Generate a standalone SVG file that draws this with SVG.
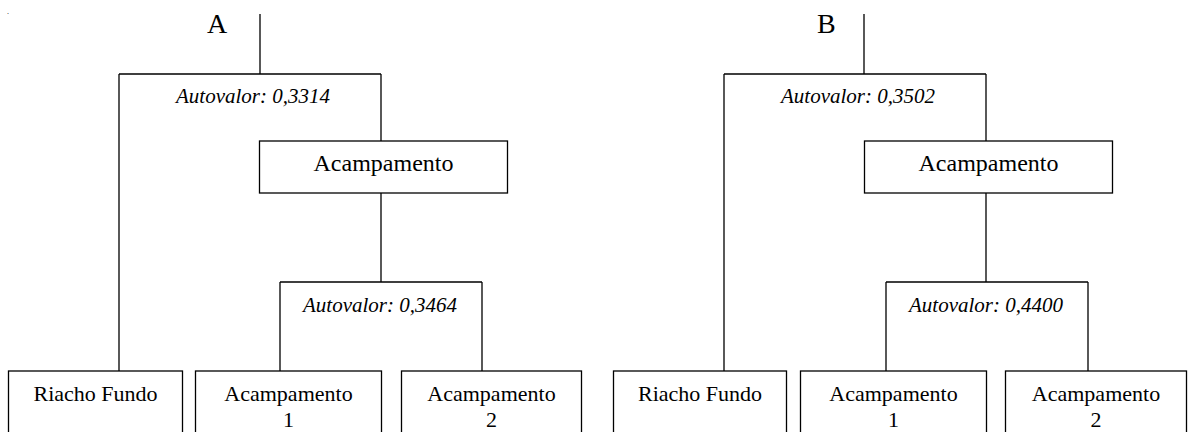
<svg xmlns="http://www.w3.org/2000/svg" width="1191" height="432" viewBox="0 0 1191 432">
<style>
.ln{fill:none;stroke:#000;stroke-width:1.3}
.bx{fill:#fff;stroke:#000;stroke-width:1.3}
.t{font-family:"Liberation Serif","Times New Roman",serif;fill:#000}
.lbl{font-size:22px;text-anchor:middle}
.big{font-size:24px;text-anchor:middle}
.av{font-size:21px;font-style:italic;text-anchor:middle}
.hd{font-size:28px}
</style>
<rect width="1191" height="432" fill="#fff"/>
<text class="t" x="7" y="14" font-size="8">.</text>
<g id="connectors">
  <path class="ln" d="M260,14 V74 M119,74 H381 M119,74 V371 M381,74 V141 M381,193 V282 M280,282 H482 M280,282 V371 M482,282 V371"/>
  <path class="ln" d="M864,14 V74 M724,74 H986 M724,74 V371 M986,74 V141 M986,193 V282 M886,282 H1088 M886,282 V371 M1088,282 V371"/>
</g>
<g id="labelA"><text class="t hd" x="207" y="33">A</text></g>
<g id="labelB"><text class="t hd" x="817" y="33">B</text></g>
<g id="autovalorA1"><text class="t av" x="253" y="103">Autovalor: 0,3314</text></g>
<g id="autovalorA2"><text class="t av" x="380" y="312">Autovalor: 0,3464</text></g>
<g id="autovalorB1"><text class="t av" x="858" y="103">Autovalor: 0,3502</text></g>
<g id="autovalorB2"><text class="t av" x="986" y="312">Autovalor: 0,4400</text></g>
<g id="acampA">
  <rect class="bx" x="259.5" y="141" width="248" height="52"/>
  <text class="t big" x="383.5" y="171">Acampamento</text>
</g>
<g id="acampB">
  <rect class="bx" x="864.5" y="141" width="248" height="52"/>
  <text class="t big" x="988.5" y="171">Acampamento</text>
</g>
<g id="riachoA">
  <rect class="bx" x="8.5" y="371" width="174" height="70"/>
  <text class="t lbl" x="95.5" y="401">Riacho Fundo</text>
</g>
<g id="acamp1A">
  <rect class="bx" x="195.5" y="371" width="186" height="70"/>
  <text class="t lbl" x="288.5" y="401">Acampamento</text>
  <text class="t lbl" x="288.5" y="427">1</text>
</g>
<g id="acamp2A">
  <rect class="bx" x="401.5" y="371" width="180" height="70"/>
  <text class="t lbl" x="491.5" y="401">Acampamento</text>
  <text class="t lbl" x="491.5" y="427">2</text>
</g>
<g id="riachoB">
  <rect class="bx" x="613.5" y="371" width="173" height="70"/>
  <text class="t lbl" x="700" y="401">Riacho Fundo</text>
</g>
<g id="acamp1B">
  <rect class="bx" x="800.5" y="371" width="186" height="70"/>
  <text class="t lbl" x="893.5" y="401">Acampamento</text>
  <text class="t lbl" x="893.5" y="427">1</text>
</g>
<g id="acamp2B">
  <rect class="bx" x="1005.5" y="371" width="181" height="70"/>
  <text class="t lbl" x="1096" y="401">Acampamento</text>
  <text class="t lbl" x="1096" y="427">2</text>
</g>
</svg>
